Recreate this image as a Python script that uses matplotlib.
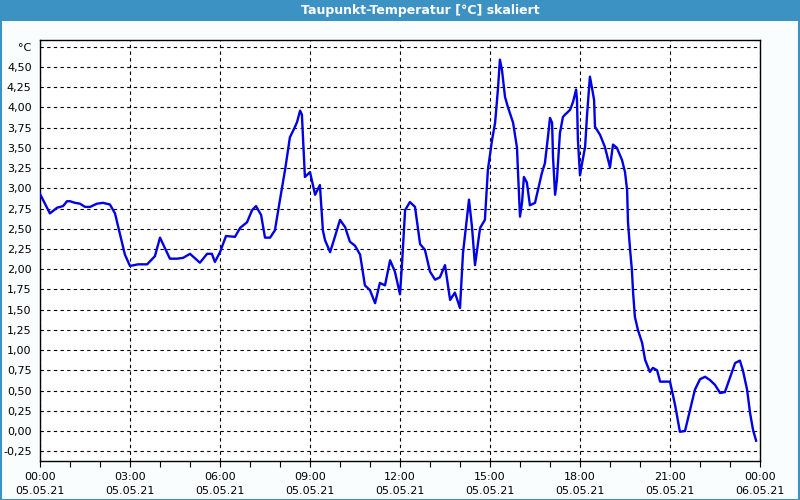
import matplotlib
matplotlib.use("Agg")
import matplotlib.pyplot as plt
from matplotlib.patches import Rectangle
import numpy as np

title = "Taupunkt-Temperatur [°C] skaliert"
unit_label = "°C"

hours = [0.0, 0.33, 0.57, 0.77, 0.9, 1.0, 1.17, 1.33, 1.5, 1.67, 1.9, 2.1, 2.33, 2.5,
         2.83, 3.0, 3.27, 3.57, 3.83, 4.0, 4.33, 4.57, 4.77, 5.0, 5.33, 5.57, 5.73,
         5.83, 6.0, 6.2, 6.5, 6.67, 6.9, 7.07, 7.2, 7.37, 7.5, 7.67, 7.83, 8.0,
         8.17, 8.33, 8.5, 8.57, 8.67, 8.73, 8.83, 9.0, 9.17, 9.33, 9.43, 9.5, 9.67,
         9.83, 10.0, 10.17, 10.33, 10.5, 10.67, 10.83, 11.0, 11.17, 11.33, 11.5,
         11.67, 11.83, 12.0, 12.07, 12.17, 12.33, 12.5, 12.67, 12.83, 13.0, 13.17,
         13.33, 13.5, 13.67, 13.83, 14.0, 14.1, 14.3, 14.4, 14.5, 14.67, 14.83,
         14.93, 15.07, 15.17, 15.27, 15.33, 15.4, 15.5, 15.6, 15.77, 15.9, 15.93,
         16.0, 16.07, 16.13, 16.23, 16.33, 16.5, 16.6, 16.73, 16.83, 16.93, 17.0,
         17.07, 17.1, 17.17, 17.23, 17.33, 17.43, 17.5, 17.67, 17.77, 17.87, 17.9,
         17.93, 18.0, 18.07, 18.17, 18.23, 18.33, 18.4, 18.47, 18.5, 18.67, 18.83,
         19.0, 19.1, 19.23, 19.4, 19.5, 19.57, 19.6, 19.67, 19.73, 19.77, 19.83,
         19.93, 20.07, 20.17, 20.33, 20.43, 20.57, 20.67, 21.0, 21.17, 21.33, 21.5,
         21.67, 21.83, 22.0, 22.17, 22.33, 22.5, 22.67, 22.83, 23.0, 23.17, 23.33,
         23.43, 23.57, 23.67, 23.77, 23.87]

dewpoint = [2.93, 2.69, 2.76, 2.78, 2.84, 2.84, 2.82, 2.81, 2.77, 2.77, 2.81, 2.82,
            2.80, 2.69, 2.18, 2.04, 2.06, 2.06, 2.16, 2.39, 2.13, 2.13, 2.14, 2.19,
            2.08, 2.19, 2.19, 2.09, 2.21, 2.41, 2.40, 2.51, 2.58, 2.73, 2.78, 2.67,
            2.39, 2.39, 2.48, 2.86, 3.23, 3.63, 3.76, 3.82, 3.96, 3.91, 3.14, 3.20,
            2.92, 3.04, 2.48, 2.36, 2.21, 2.40, 2.61, 2.52, 2.34, 2.29, 2.18, 1.80,
            1.74, 1.58, 1.83, 1.80, 2.11, 1.97, 1.69, 2.08, 2.73, 2.83, 2.77, 2.31,
            2.24, 1.97, 1.87, 1.90, 2.05, 1.62, 1.71, 1.52, 2.20, 2.86, 2.52, 2.05,
            2.51, 2.61, 3.23, 3.60, 3.81, 4.25, 4.59, 4.46, 4.13, 4.00, 3.81, 3.50,
            3.23, 2.65, 2.83, 3.14, 3.07, 2.79, 2.82, 2.98, 3.19, 3.31, 3.63, 3.87,
            3.81, 3.39, 2.92, 3.10, 3.68, 3.88, 3.91, 3.97, 4.07, 4.22, 4.09, 3.60,
            3.16, 3.31, 3.51, 3.88, 4.38, 4.24, 4.09, 3.76, 3.66, 3.51, 3.26, 3.54,
            3.50, 3.35, 3.20, 2.98, 2.58, 2.24, 1.99, 1.71, 1.41, 1.25, 1.09, 0.88,
            0.73, 0.78, 0.75, 0.61, 0.61, 0.32, -0.01, 0.00, 0.26, 0.51, 0.64, 0.67,
            0.63, 0.57, 0.47, 0.48, 0.66, 0.84, 0.87, 0.75, 0.51, 0.22, 0.01, -0.12]

x_tick_hours = [0, 3, 6, 9, 12, 15, 18, 21, 24]
x_tick_labels = ["00:00\n05.05.21", "03:00\n05.05.21", "06:00\n05.05.21",
                 "09:00\n05.05.21", "12:00\n05.05.21", "15:00\n05.05.21",
                 "18:00\n05.05.21", "21:00\n05.05.21", "00:00\n06.05.21"]
y_tick_values = [-0.25, 0.0, 0.25, 0.5, 0.75, 1.0, 1.25, 1.5, 1.75, 2.0, 2.25,
                 2.5, 2.75, 3.0, 3.25, 3.5, 3.75, 4.0, 4.25, 4.5, 4.75]

plt.rcParams['font.family'] = ['DejaVu Sans']

W, H = 800, 500
fig = plt.figure(figsize=(W / 100, H / 100), dpi=100)
fig.patch.set_facecolor('#FAFDFD')

blue = '#3D92C4'
# title bar and window border
fig.patches.append(Rectangle((0, 1 - 21 / H), 1, 21 / H, transform=fig.transFigure,
                             facecolor=blue, edgecolor='none', zorder=0))
fig.patches.append(Rectangle((0.5 / W, 0.5 / H), 1 - 1.5 / W, 1 - 1 / H,
                             transform=fig.transFigure, facecolor='none',
                             edgecolor=blue, linewidth=1.5, zorder=0))
fig.text(0.5 + 20 / W, 1 - 10.5 / H, title, ha='center', va='center', color='white',
         fontsize=9, fontweight='bold')

ax = fig.add_axes([40 / W, 1 - 461 / H, 720 / W, 421 / H])
ax.set_facecolor('white')
ax.plot(hours, dewpoint, color='#0000E6', linewidth=1.7, zorder=3)

ax.set_xlim(0, 24)
ax.set_ylim(-0.371, 4.833)

ax.set_xticks(x_tick_hours)
ax.set_xticklabels(x_tick_labels, fontsize=8, linespacing=1.45)
ax.set_xticks(np.arange(0, 25, 1), minor=True)
ax.set_yticks(y_tick_values)
ylabels = [f"{v:.2f}".replace('.', ',') for v in y_tick_values]
ylabels[-1] = unit_label
ax.set_yticklabels(ylabels, fontsize=8)

ax.tick_params(axis='x', which='both', direction='out', length=4, width=0.8, pad=4)
ax.tick_params(axis='y', length=0, pad=6)

ax.grid(True, which='major', color='black', linestyle=(0, (3, 3)), linewidth=0.8)
for s in ax.spines.values():
    s.set_linewidth(1.0)
    s.set_color('black')

fig.savefig('out.png', dpi=100, facecolor=fig.get_facecolor())
